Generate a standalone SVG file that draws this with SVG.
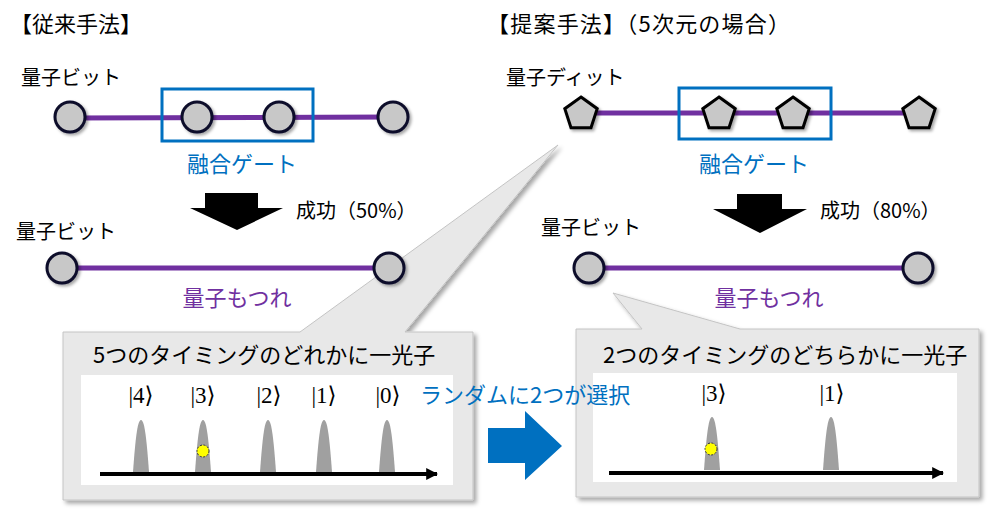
<svg xmlns="http://www.w3.org/2000/svg" width="1000" height="516" viewBox="0 0 1000 516">
<defs>
<filter id="sh" x="-30%" y="-30%" width="170%" height="170%"><feDropShadow dx="2" dy="2" stdDeviation="1.5" flood-color="#000" flood-opacity="0.35"/></filter>
<filter id="bsh" x="-10%" y="-10%" width="120%" height="130%"><feDropShadow dx="3" dy="3" stdDeviation="2" flood-color="#000" flood-opacity="0.35"/></filter>
<marker id="ah" viewBox="0 0 10 10" refX="9" refY="5" markerWidth="3" markerHeight="3.2" orient="auto" markerUnits="strokeWidth"><path d="M0,0 L10,5 L0,10 Z" fill="#000"/></marker>
</defs>
<style>
text{font-family:"Noto Sans CJK JP","Noto Sans",sans-serif;font-weight:400}
.t{font-size:22px;fill:#000}
.lb{font-size:20px;fill:#000}
.blue{fill:#0070c0}
.pur{fill:#7030a0}
.q{fill:#c8c8c8;stroke:#0d0d2b;stroke-width:3;filter:url(#sh)}
.p{fill:#c8c8c8;stroke:#000;stroke-width:3;stroke-linejoin:miter;filter:url(#sh)}
.ent{stroke:#7030a0;stroke-width:5;fill:none}
.gate{fill:none;stroke:#0070c0;stroke-width:3}
.call{fill:#e8e8e8;stroke:#c4c4c4;stroke-width:1;filter:url(#bsh)}
.pk{fill:#a0a0a0}
.ax{stroke:#000;stroke-width:4;marker-end:url(#ah)}
.ket{font-family:"Liberation Serif","DejaVu Serif",serif;font-size:23px;fill:#000}
.ph{fill:#ffff00;stroke:#333;stroke-width:1;stroke-dasharray:2 1.5}
</style>

<!-- titles -->
<text class="t" x="10" y="32">【従来手法】</text>
<text class="t" x="487" y="32" textLength="303" lengthAdjust="spacing">【提案手法】（5次元の場合）</text>

<!-- callouts -->
<g id="callout-left">
<path class="call" d="M63,332 L300,332 L558,145 L405,332 L473,332 L473,500 L63,500 Z"/>
<text class="t" x="93" y="363">5つのタイミングのどれかに一光子</text>
<rect x="81" y="375" width="372" height="110" fill="#fff"/>
<text class="ket" x="141" y="403" text-anchor="middle">|4⟩</text>
<text class="ket" x="203" y="403" text-anchor="middle">|3⟩</text>
<text class="ket" x="269" y="403" text-anchor="middle">|2⟩</text>
<text class="ket" x="324" y="403" text-anchor="middle">|1⟩</text>
<text class="ket" x="388" y="403" text-anchor="middle">|0⟩</text>
<path class="pk" d="M133,472 C135,445 137,420 141,420 C145,420 147,445 149,472 Z"/>
<path class="pk" d="M195,472 C197,445 199,420 203,420 C207,420 209,445 211,472 Z"/>
<path class="pk" d="M260,472 C262,445 264,420 268,420 C272,420 274,445 276,472 Z"/>
<path class="pk" d="M316,472 C318,445 320,420 324,420 C328,420 330,445 332,472 Z"/>
<path class="pk" d="M379,472 C381,445 383,420 387,420 C391,420 393,445 395,472 Z"/>
<circle class="ph" cx="203" cy="451" r="6"/>
<line class="ax" x1="100" y1="474" x2="437" y2="474"/>
</g>

<g id="callout-right">
<path class="call" d="M576,329 L642,329 L613,293 L740,329 L979,329 L979,497 L576,497 Z"/>
<text class="t" x="603" y="363">2つのタイミングのどちらかに一光子</text>
<rect x="593" y="373" width="364" height="109" fill="#fff"/>
<text class="ket" x="714" y="401" text-anchor="middle">|3⟩</text>
<text class="ket" x="832" y="401" text-anchor="middle">|1⟩</text>
<path class="pk" d="M704,470 C706,443 708,417 712,417 C716,417 718,443 720,470 Z"/>
<path class="pk" d="M823,470 C825,443 827,417 831,417 C835,417 837,443 839,470 Z"/>
<circle class="ph" cx="711" cy="449" r="6"/>
<line class="ax" x1="609" y1="473" x2="943" y2="473"/>
</g>

<!-- transition arrows -->
<g id="arrows">
<polygon fill="#000" points="205,193 258,193 258,208 283,208 237,230 190,208 205,208"/>
<polygon fill="#000" points="737,194 782,194 782,209 807,209 760,233 713,209 737,209"/>
<polygon fill="#0070c0" points="488,428 525,428 525,411 562,446 525,480 525,463 488,463"/>
</g>

<!-- connectors -->
<g id="connectors">
<line class="ent" x1="70" y1="118" x2="393" y2="117"/>
<line class="ent" x1="581" y1="113" x2="919" y2="113"/>
<line class="ent" x1="62" y1="268" x2="389" y2="268"/>
<line class="ent" x1="589" y1="268" x2="918" y2="268"/>
</g>

<!-- left top chain -->
<g id="label-qubit-1"><text class="lb" x="21" y="85">量子ビット</text></g>
<g id="q1"><circle class="q" cx="70" cy="117" r="15"/></g>
<g id="q2"><circle class="q" cx="197" cy="117" r="15"/></g>
<g id="q3"><circle class="q" cx="279" cy="117" r="15"/></g>
<g id="q4"><circle class="q" cx="393" cy="117" r="15"/></g>
<g id="gate-left"><rect class="gate" x="162" y="89" width="151" height="52"/><text class="blue" x="242" y="172" font-size="22" text-anchor="middle">融合ゲート</text></g>
<g id="success-left"><text class="lb" x="296" y="218">成功（50%）</text></g>

<!-- left bottom -->
<g id="label-qubit-2"><text class="lb" x="16" y="239">量子ビット</text></g>
<g id="q5"><circle class="q" cx="62" cy="268" r="15"/></g>
<g id="q6"><circle class="q" cx="389" cy="268" r="15"/></g>
<g id="ent-left"><text class="pur" x="237" y="306" font-size="22" text-anchor="middle">量子もつれ</text></g>

<!-- right top chain -->
<g id="label-qudit"><text class="lb" x="506" y="85">量子ディット</text></g>
<g id="d1"><polygon class="p" transform="translate(581,114)" points="0,-17 16.2,-5.3 10,13.8 -10,13.8 -16.2,-5.3"/></g>
<g id="d2"><polygon class="p" transform="translate(719,114)" points="0,-17 16.2,-5.3 10,13.8 -10,13.8 -16.2,-5.3"/></g>
<g id="d3"><polygon class="p" transform="translate(793,114)" points="0,-17 16.2,-5.3 10,13.8 -10,13.8 -16.2,-5.3"/></g>
<g id="d4"><polygon class="p" transform="translate(919,114)" points="0,-17 16.2,-5.3 10,13.8 -10,13.8 -16.2,-5.3"/></g>
<g id="gate-right"><rect class="gate" x="679" y="88" width="152" height="51"/><text class="blue" x="754" y="172" font-size="22" text-anchor="middle">融合ゲート</text></g>
<g id="success-right"><text class="lb" x="820" y="218">成功（80%）</text></g>

<!-- right bottom -->
<g id="label-qubit-3"><text class="lb" x="541" y="235">量子ビット</text></g>
<g id="q7"><circle class="q" cx="589" cy="268" r="15"/></g>
<g id="q8"><circle class="q" cx="918" cy="268" r="15"/></g>
<g id="ent-right"><text class="pur" x="769" y="306" font-size="22" text-anchor="middle">量子もつれ</text></g>

<g id="random-label"><text class="blue" x="420" y="403" font-size="22">ランダムに2つが選択</text></g>
</svg>
